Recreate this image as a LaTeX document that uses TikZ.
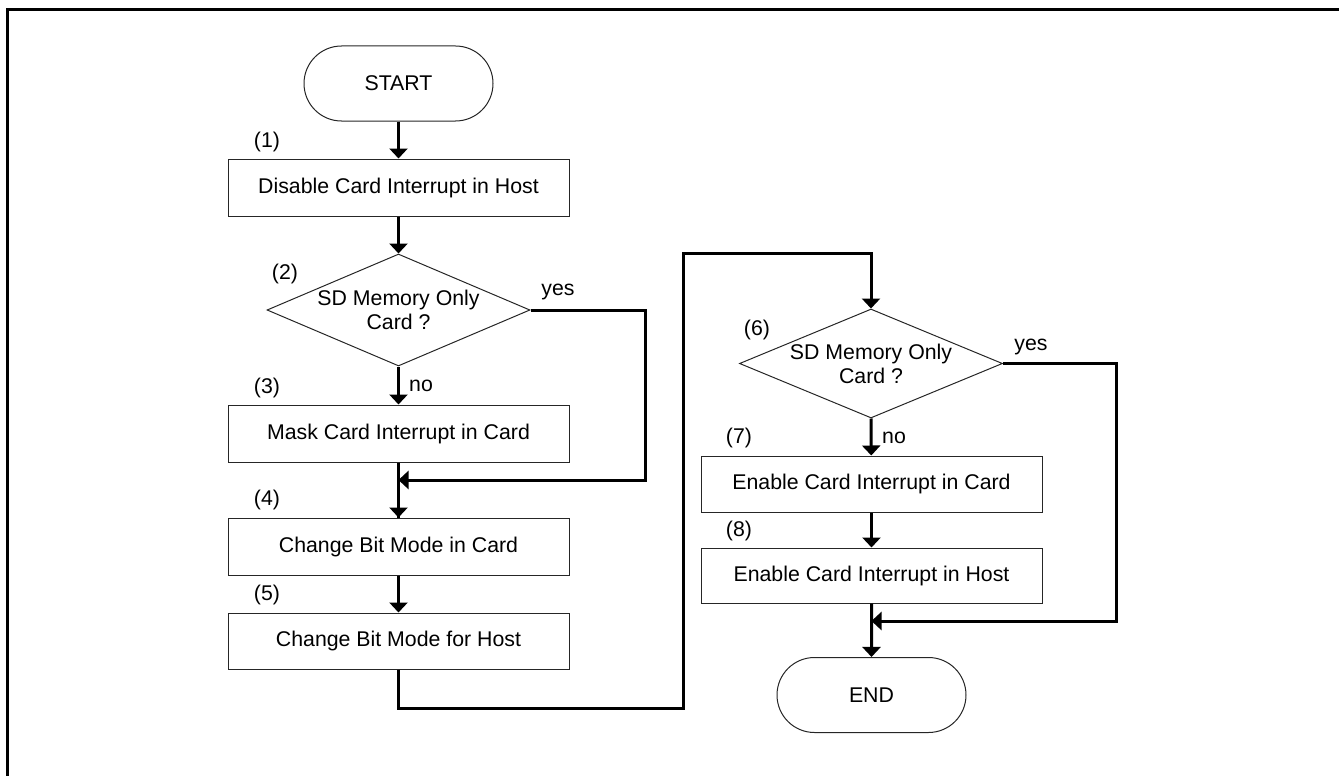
\documentclass[tikz,border=0pt]{standalone}
\usepackage{fontspec}
\setmainfont{Liberation Sans}
\usetikzlibrary{shapes.geometric,shapes.misc,arrows.meta}
\begin{document}
\begin{tikzpicture}[x=1pt,y=-1pt,
  font=\fontsize{21.3}{24}\selectfont,
  stepbox/.style={draw=black!85,line width=1pt,rectangle,minimum width=341pt,inner sep=0pt},
  decision/.style={draw=black!85,line width=1pt,diamond,aspect=1,inner sep=0pt,minimum width=263pt,align=center},
  term/.style={draw=black!85,line width=1pt,rounded rectangle,minimum width=189pt,minimum height=75pt,inner sep=0pt},
  lbl/.style={inner sep=0pt},
  conn/.style={line width=3pt},
  arr/.style={conn,-{Triangle[width=18pt,length=10pt]}}]
\useasboundingbox (0,0) rectangle (1339,776);
\draw[line width=3pt] (1339,10) -- (7,10) -- (7,776);

\node[term] (start) at (398.5,83.5) {START};
\node[stepbox,minimum height=57pt] (b1) at (398.5,187.5) {Disable Card Interrupt in Host};
\node[decision,minimum height=112pt] (d2) at (398.5,310) {\makebox[0pt]{SD Memory Only}\\\makebox[0pt]{Card ?}};
\node[stepbox,minimum height=57pt] (b3) at (398.5,433.5) {Mask Card Interrupt in Card};
\node[stepbox,minimum height=57pt] (b4) at (398.5,546.5) {Change Bit Mode in Card};
\node[stepbox,minimum height=56pt] (b5) at (398.5,641) {Change Bit Mode for Host};

\node[decision,minimum height=109pt] (d6) at (871,363.5) {\makebox[0pt]{SD Memory Only}\\\makebox[0pt]{Card ?}};
\node[stepbox,minimum height=56pt] (b7) at (871.5,484) {Enable Card Interrupt in Card};
\node[stepbox,minimum height=55pt] (b8) at (871.5,575.5) {Enable Card Interrupt in Host};
\node[term] (end) at (871.5,695) {END};

\node[lbl] (l1) at (267,142) {(1)};
\node[lbl] (l2) at (285,274) {(2)};
\node[lbl] (l3) at (267,388) {(3)};
\node[lbl] (l4) at (267,500) {(4)};
\node[lbl] (l5) at (267,595) {(5)};
\node[lbl] (l6) at (757,330) {(6)};
\node[lbl] (l7) at (739,438) {(7)};
\node[lbl] (l8) at (739,531) {(8)};
\node[lbl] (yes2) at (558,292) {yes};
\node[lbl] (no2) at (421,386) {no};
\node[lbl] (yes6) at (1031,347) {yes};
\node[lbl] (no6) at (894,438) {no};

\coordinate (c1) at (645,480);
\coordinate (m1) at (398.5,480);
\coordinate (c2) at (683,708);
\coordinate (c3) at (683,253);
\coordinate (c4) at (1116,621);
\coordinate (m2) at (871.5,621);

\draw[arr] (start) -- (b1);
\draw[arr] (b1) -- (d2);
\draw[arr] (d2.south) -- (b3);
\draw[conn] (b3) -- (b4.north);
\draw[arr] (b3.south) -- (b4);
\draw[arr] (d2.east) -| (c1) -- (m1);
\draw[arr] (b4) -- (b5);
\draw[arr] (b5.south) |- (c2) -- (c3) -| (d6.north);
\draw[arr] (d6.south) -- (b7);
\draw[arr] (b7) -- (b8);
\draw[arr] (b8) -- (end);
\draw[arr] (d6.east) -| (c4) -- (m2);
\end{tikzpicture}
\end{document}
